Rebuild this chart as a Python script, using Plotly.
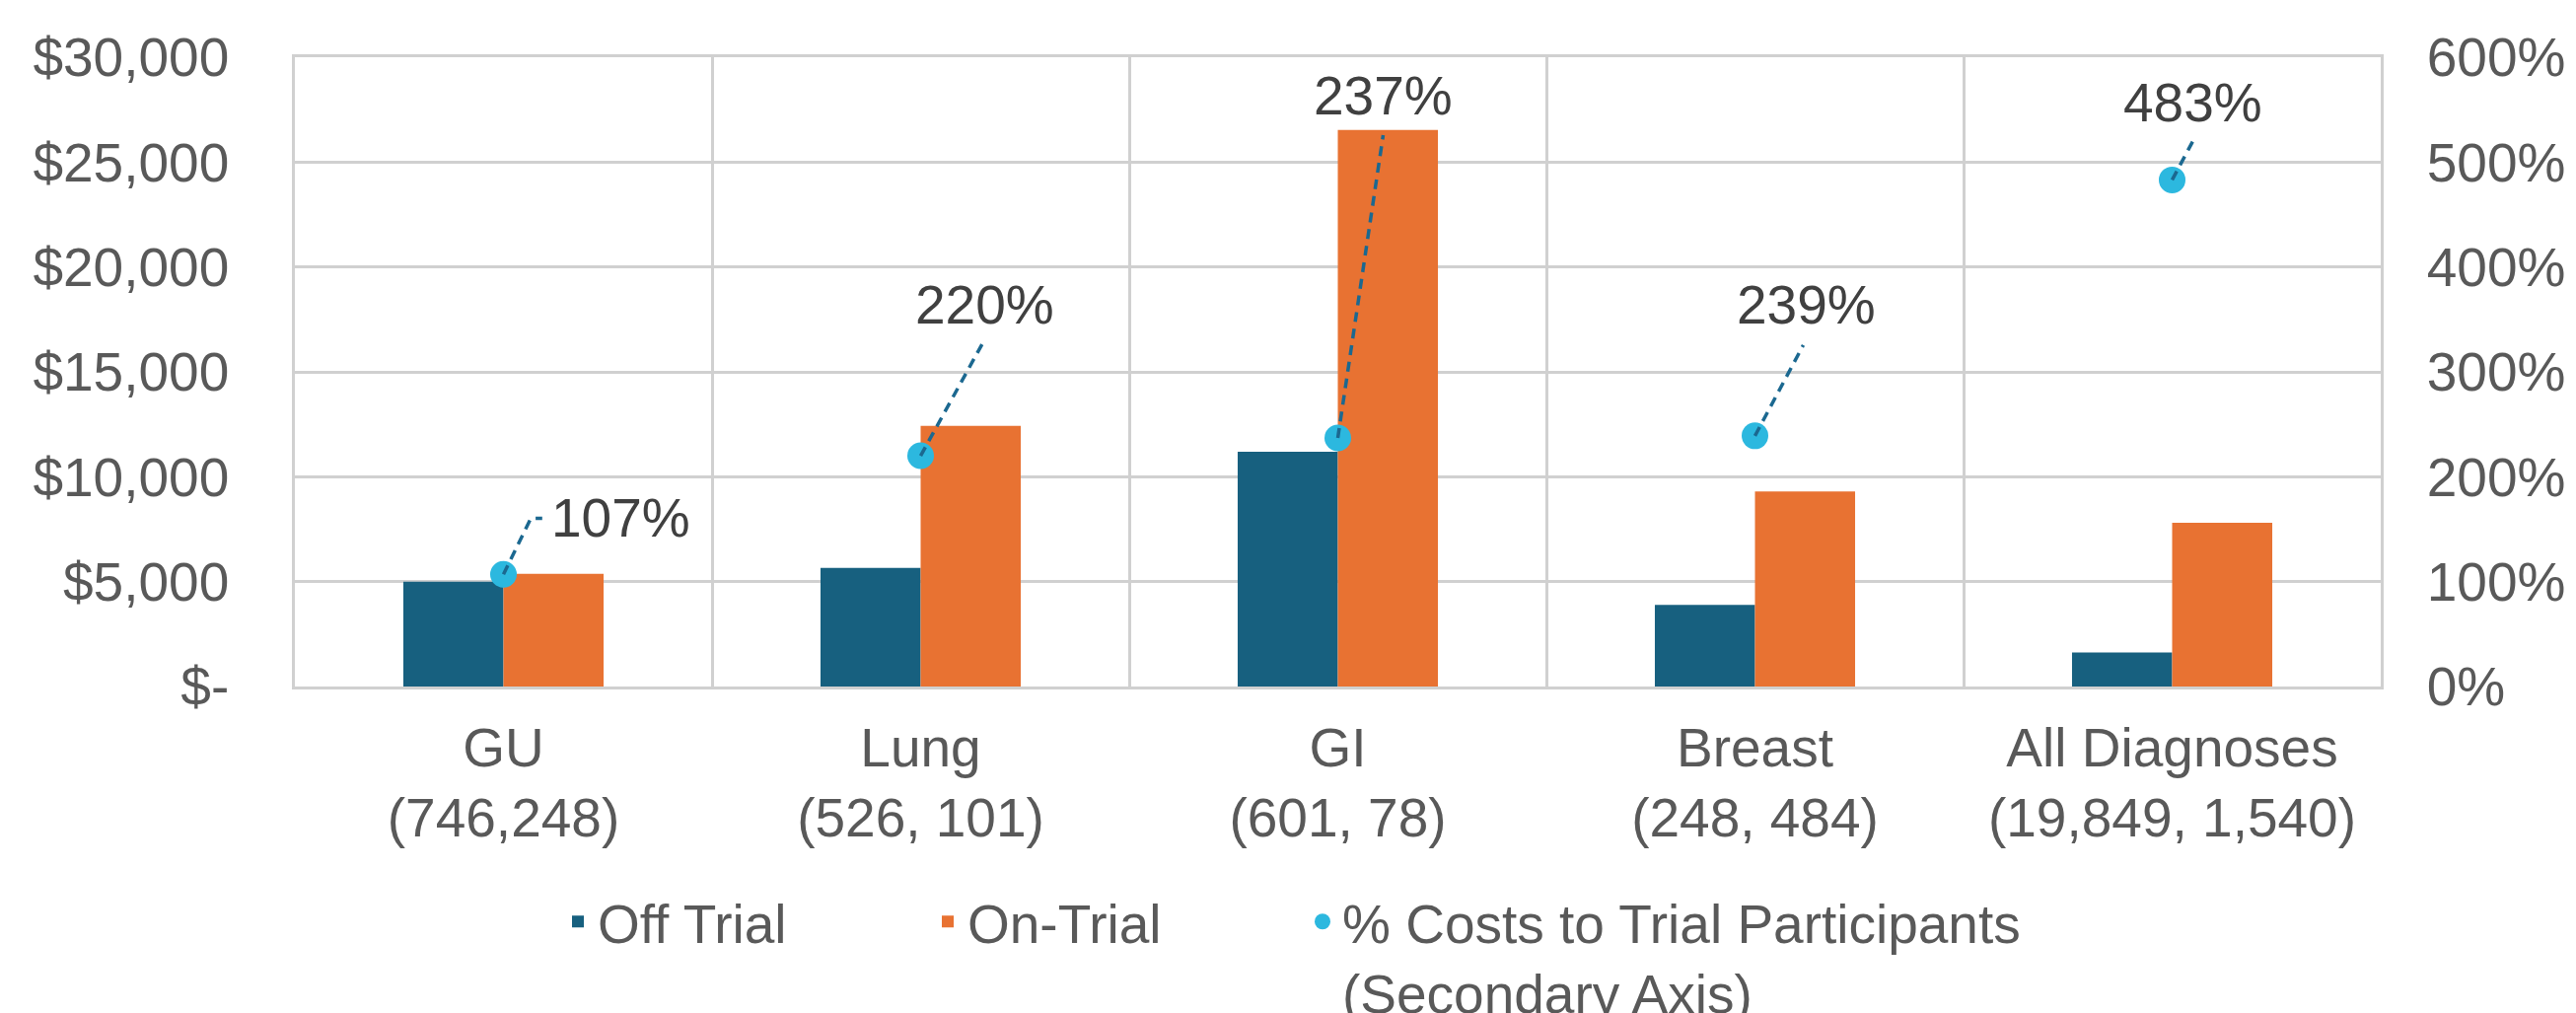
import plotly.graph_objects as go

# ---- data ----
categories = ["GU<br>(746,248)", "Lung<br>(526, 101)", "GI<br>(601, 78)",
              "Breast<br>(248, 484)", "All Diagnoses<br>(19,849, 1,540)"]
off_trial = [5000, 5650, 11190, 3890, 1620]
on_trial = [5370, 12430, 26530, 9300, 7810]
pct_costs = [107, 220, 237, 239, 483]
pct_labels = ["107%", "220%", "237%", "239%", "483%"]

y_tickvals = [0, 5000, 10000, 15000, 20000, 25000, 30000]
y_ticktext = ["$-", "$5,000", "$10,000", "$15,000", "$20,000", "$25,000", "$30,000"]
y2_tickvals = [0, 100, 200, 300, 400, 500, 600]
y2_ticktext = ["0%", "100%", "200%", "300%", "400%", "500%", "600%"]

# ---- label placement (pixel offsets from each point; leader line paths) ----
label_offsets = [(119, 57), (65, 153), (46, 347), (52, 133), (21, 78)]
leader_paths = ["M0,0 L27.7,56.7 L39.3,56.7",
                "M0,0 L65,118",
                "M0,0 L46,307",
                "M0,0 L49,92",
                "M0,0 L23,43"]

# page body has an 8px margin; the figure is sized so it ends at the window edge
W, H = 2604, 1019
ML, MR, MT, MB = 291, 198, 50, 331
PW, PH = W - ML - MR, H - MT - MB
FONT = "Arial, Liberation Sans, sans-serif"
GRID = "#D0D0D0"
TICK = "#595959"
LEAD = "#1B6890"

fig = go.Figure()
fig.add_trace(go.Bar(name="Off Trial", x=categories, y=off_trial, legend="legend",
                     marker=dict(color="#17607F", line=dict(width=0))))
fig.add_trace(go.Bar(name="On-Trial", x=categories, y=on_trial, legend="legend2",
                     marker=dict(color="#E87232", line=dict(width=0))))
fig.add_trace(go.Scatter(name="% Costs to Trial Participants<br>(Secondary Axis)",
                         x=categories, y=pct_costs, yaxis="y2", mode="markers",
                         legend="legend3",
                         marker=dict(color="#2CB8DF", size=27)))

for cat, val, lab, (dx, dy), path in zip(categories, pct_costs, pct_labels,
                                         label_offsets, leader_paths):
    fig.add_shape(type="path", xref="x", yref="y2", xsizemode="pixel",
                  ysizemode="pixel", xanchor=cat, yanchor=val, path=path,
                  line=dict(color=LEAD, width=3.5, dash="10px,7px"))
    fig.add_annotation(x=cat, y=val, xref="x", yref="y2", text=lab,
                       showarrow=False, xshift=dx, yshift=dy,
                       xanchor="center", yanchor="middle",
                       font=dict(family=FONT, size=55, color="#404040"))

leg_common = dict(orientation="h", xanchor="left", yanchor="top",
                  y=-196 / PH, valign="top", bgcolor="rgba(0,0,0,0)",
                  font=dict(family=FONT, size=55, color=TICK))

fig.update_layout(
    width=W, height=H,
    margin=dict(l=ML, r=MR, t=MT, b=MB, autoexpand=False),
    paper_bgcolor="white", plot_bgcolor="white",
    barmode="group", bargap=0.52, bargroupgap=0,
    font=dict(family=FONT, size=55, color=TICK),
    showlegend=True,
    legend=dict(x=(558 - ML) / PW, **leg_common),
    legend2=dict(x=(933 - ML) / PW, **leg_common),
    legend3=dict(x=(1313 - ML) / PW, **leg_common),
    xaxis=dict(type="category", tickson="boundaries", showgrid=True,
               gridcolor=GRID, gridwidth=2.5, ticks="",
               showline=True, mirror=True, linecolor=GRID, linewidth=2.5,
               zeroline=False, automargin=False, ticklabelstandoff=12,
               tickfont=dict(family=FONT, size=55, color=TICK)),
    yaxis=dict(range=[0, 30000], tickvals=y_tickvals, ticktext=y_ticktext,
               showgrid=True, gridcolor=GRID, gridwidth=2.5, zeroline=False,
               showline=True, linecolor=GRID, linewidth=2.5, ticks="",
               automargin=False, ticklabelstandoff=53,
               tickfont=dict(family=FONT, size=55, color=TICK)),
    yaxis2=dict(range=[0, 600], tickvals=y2_tickvals, ticktext=y2_ticktext,
                overlaying="y", side="right", showgrid=False, zeroline=False,
                showline=True, linecolor=GRID, linewidth=2.5, ticks="",
                automargin=False, ticklabelstandoff=33,
                tickfont=dict(family=FONT, size=55, color=TICK)),
)

fig.write_html("out.html")
